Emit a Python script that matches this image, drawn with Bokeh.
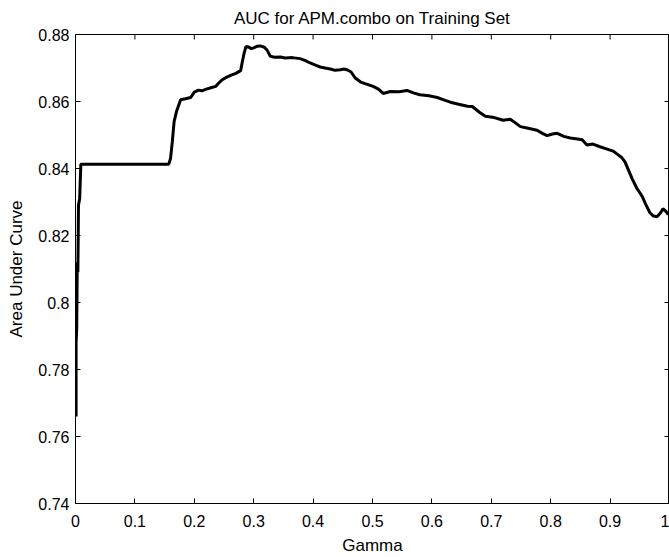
import math
from bokeh.plotting import figure
from bokeh.models import Range1d, FixedTicker
from bokeh.embed import file_html
from bokeh.resources import INLINE

gamma = [0.001, 0.001, 0.002, 0.003, 0.004, 0.005, 0.007, 0.009, 0.157, 0.160,
         0.163, 0.166, 0.170, 0.177, 0.185, 0.194, 0.200, 0.207, 0.213, 0.219,
         0.228, 0.236, 0.241, 0.247, 0.254, 0.261, 0.270, 0.278, 0.281, 0.284,
         0.287, 0.291, 0.296, 0.300, 0.306, 0.311, 0.318, 0.323, 0.328, 0.335,
         0.345, 0.353, 0.365, 0.378, 0.387, 0.395, 0.405, 0.412, 0.420, 0.429,
         0.437, 0.446, 0.452, 0.458, 0.464, 0.471, 0.480, 0.490, 0.501, 0.510,
         0.518, 0.530, 0.545, 0.558, 0.570, 0.580, 0.595, 0.609, 0.620, 0.631,
         0.645, 0.660, 0.668, 0.680, 0.690, 0.705, 0.720, 0.732, 0.740, 0.749,
         0.762, 0.777, 0.786, 0.794, 0.803, 0.811, 0.822, 0.833, 0.845, 0.853,
         0.861, 0.871, 0.883, 0.895, 0.905, 0.912, 0.920, 0.925, 0.931, 0.937,
         0.945, 0.954, 0.960, 0.967, 0.973, 0.979, 0.985, 0.989, 0.994, 0.998]

auc = [0.766, 0.788, 0.792, 0.812, 0.809, 0.829, 0.831, 0.8413, 0.8413, 0.843,
       0.848, 0.854, 0.857, 0.8605, 0.8608, 0.8612, 0.8628, 0.8634, 0.8632, 0.8636,
       0.8641, 0.8645, 0.8655, 0.8665, 0.8672, 0.8678, 0.8684, 0.8692, 0.872, 0.8745,
       0.8764, 0.8763, 0.8758, 0.8760, 0.8765, 0.8766, 0.8762, 0.8752, 0.8735, 0.8732,
       0.8733, 0.8730, 0.8731, 0.8728, 0.8722, 0.8715, 0.8708, 0.8703, 0.8700, 0.8697,
       0.8693, 0.8695, 0.8697, 0.8694, 0.8688, 0.8670, 0.8658, 0.8652, 0.8645, 0.8637,
       0.8624, 0.8630, 0.8629, 0.8633, 0.8625, 0.8620, 0.8617, 0.8612, 0.8605, 0.8598,
       0.8592, 0.8586, 0.8585, 0.8568, 0.8556, 0.8552, 0.8544, 0.8547, 0.8537, 0.8525,
       0.8520, 0.8514, 0.8505, 0.8498, 0.8503, 0.8505, 0.8496, 0.8491, 0.8488, 0.8486,
       0.8470, 0.8473, 0.8465, 0.8458, 0.8452, 0.8443, 0.8432, 0.8420, 0.8395, 0.8370,
       0.8341, 0.8317, 0.8293, 0.8268, 0.8258, 0.8256, 0.8268, 0.8280, 0.8272, 0.8262]

x_ticks = [0, 0.1, 0.2, 0.3, 0.4, 0.5, 0.6, 0.7, 0.8, 0.9, 1.0]
x_tick_labels = ["0", "0.1", "0.2", "0.3", "0.4", "0.5", "0.6", "0.7", "0.8", "0.9", "1"]
y_ticks = [0.74, 0.76, 0.78, 0.80, 0.82, 0.84, 0.86, 0.88]
y_tick_labels = ["0.74", "0.76", "0.78", "0.8", "0.82", "0.84", "0.86", "0.88"]

FONT = "Liberation Sans"
X0, X1 = 0, 1
Y0, Y1 = 0.74, 0.88

p = figure(width=669, height=557, output_backend="svg", toolbar_location=None,
           x_range=Range1d(X0, X1), y_range=Range1d(Y0, Y1),
           title="AUC for APM.combo on Training Set",
           min_border_left=75, min_border_right=0, min_border_top=33, min_border_bottom=54)

p.title.align = "center"
p.title.text_font = FONT
p.title.text_font_size = "17px"
p.title.text_font_style = "normal"
p.title.text_color = "black"
p.title.standoff = 13

p.xgrid.visible = False
p.ygrid.visible = False
p.outline_line_color = "black"
p.outline_line_width = 1
p.background_fill_color = "white"
p.border_fill_color = "white"

def style_axis(ax, ticks, labels):
    ax.ticker = FixedTicker(ticks=ticks)
    ax.major_label_overrides = {t: l for t, l in zip(ticks, labels)}
    ax.major_tick_in = 5
    ax.major_tick_out = 0
    ax.minor_tick_line_color = None
    ax.axis_line_color = "black"
    ax.major_tick_line_color = "black"
    ax.major_label_text_font = FONT
    ax.major_label_text_color = "black"
    ax.major_label_text_font_size = "16px"
    ax.axis_label_text_font = FONT
    ax.axis_label_text_font_size = "17px"
    ax.axis_label_text_font_style = "normal"
    ax.axis_label_text_color = "black"

style_axis(p.xaxis[0], x_ticks, x_tick_labels)
style_axis(p.yaxis[0], y_ticks, y_tick_labels)
p.xaxis[0].major_label_standoff = 11
p.yaxis[0].major_label_standoff = 6
p.xaxis[0].axis_label = "Gamma"
p.yaxis[0].axis_label = "Area Under Curve"
p.xaxis[0].axis_label_standoff = 6
p.yaxis[0].axis_label_standoff = 9

# inward ticks on the top and right edges of the box
p.ray(x=x_ticks, y=[Y1] * len(x_ticks), length=5, length_units="screen",
      angle=-math.pi / 2, line_color="black", line_width=1)
p.ray(x=[X1] * len(y_ticks), y=y_ticks, length=5, length_units="screen",
      angle=math.pi, line_color="black", line_width=1)

p.line(gamma, auc, line_color="black", line_width=3)

open("out.html", "w").write(file_html(p, INLINE))
